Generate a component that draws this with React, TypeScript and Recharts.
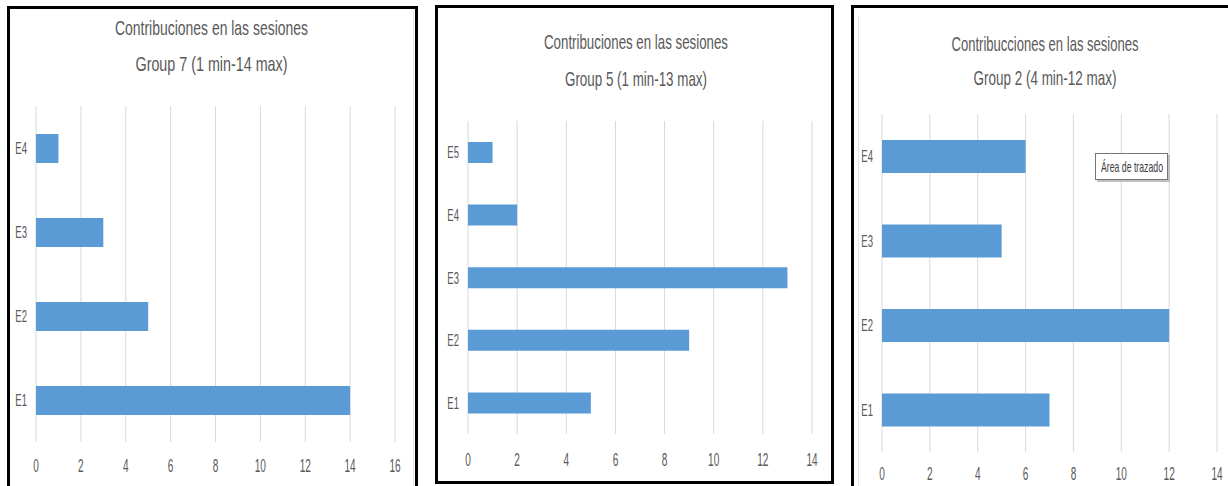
import React from "react";
import { BarChart, Bar, XAxis, YAxis, CartesianGrid } from "recharts";

// ---- data ----
const g7Categories = ["E1", "E2", "E3", "E4"];
const g7Values = [14, 5, 3, 1];
const g7Ticks = [0, 2, 4, 6, 8, 10, 12, 14, 16];
const g7Title = ["Contribuciones en las sesiones", "Group 7 (1 min-14 max)"];

const g5Categories = ["E1", "E2", "E3", "E4", "E5"];
const g5Values = [5, 9, 13, 2, 1];
const g5Ticks = [0, 2, 4, 6, 8, 10, 12, 14];
const g5Title = ["Contribuciones en las sesiones", "Group 5 (1 min-13 max)"];

const g2Categories = ["E1", "E2", "E3", "E4"];
const g2Values = [7, 12, 5, 6];
const g2Ticks = [0, 2, 4, 6, 8, 10, 12, 14];
const g2Title = ["Contribucciones en las sesiones", "Group 2  (4 min-12 max)"];

const hoverLabel = "Área de trazado";

// ---- styles ----
const FONT = "'Liberation Sans', Arial, sans-serif";
const TEXT = "#595959";
const BAR = "#5B9BD5";
const GRID = "#D9D9D9";
const SX = 0.56;

const XTick = (props: any) => {
  const { x, y, payload, off } = props;
  return (
    <g transform={`translate(${x},${y + off})`}>
      <text transform={`scale(${SX},1)`} textAnchor="middle" fontSize={18} fill={TEXT} fontFamily={FONT}>
        {payload.value}
      </text>
    </g>
  );
};

const YTick = (props: any) => {
  const { x, y, payload } = props;
  return (
    <g transform={`translate(${x - 9},${y + 6})`}>
      <text transform={`scale(${SX},1)`} textAnchor="end" fontSize={17} fill={TEXT} fontFamily={FONT}>
        {payload.value}
      </text>
    </g>
  );
};

type PanelProps = {
  cats: string[];
  vals: number[];
  ticks: number[];
  chartLeft: number;
  width: number;
  plotLeft: number;
  plotRight: number;
  plotTop: number;
  plotBottom: number;
  barSize: number;
  labelOff: number;
};

const Panel = (p: PanelProps) => {
  const data = p.cats.map((c, i) => ({ name: c, value: p.vals[i] }));
  const H = 486;
  const max = p.ticks[p.ticks.length - 1];
  return (
    <div style={{ position: "absolute", left: p.chartLeft, top: 0 }}>
      <BarChart
        width={p.width}
        height={H}
        data={data}
        layout="vertical"
        margin={{ top: p.plotTop, right: p.chartLeft + p.width - p.plotRight, bottom: 0, left: 0 }}
      >
        <CartesianGrid horizontal={false} vertical={true} stroke={GRID} />
        <XAxis
          type="number"
          domain={[0, max]}
          ticks={p.ticks}
          interval={0}
          axisLine={false}
          tickLine={false}
          tickSize={0}
          tickMargin={0}
          height={H - p.plotBottom}
          tick={(tp: any) => <XTick {...tp} off={p.labelOff} />}
        />
        <YAxis
          type="category"
          dataKey="name"
          reversed
          width={p.plotLeft - p.chartLeft}
          axisLine={false}
          tickLine={false}
          tickSize={0}
          tickMargin={0}
          interval={0}
          tick={(tp: any) => <YTick {...tp} />}
        />
        <Bar dataKey="value" fill={BAR} barSize={p.barSize} isAnimationActive={false} />
      </BarChart>
    </div>
  );
};

const Title = ({ lines, cx, y1, y2, w1, w2 }: any) => (
  <g fontFamily={FONT} fill={TEXT} fontSize={21}>
    <text x={cx - w1 / 2} y={y1} textLength={w1} lengthAdjust="spacingAndGlyphs">{lines[0]}</text>
    <text x={cx - w2 / 2} y={y2} textLength={w2} lengthAdjust="spacingAndGlyphs">{lines[1]}</text>
  </g>
);

const border = (left: number, top: number, width: number, height: number): React.CSSProperties => ({
  position: "absolute",
  left,
  top,
  width,
  height,
  border: "3px solid #000",
  boxSizing: "border-box",
});

export default function App() {
  return (
    <div style={{ position: "absolute", left: 0, top: 0, width: 1228, height: 486, overflow: "hidden", background: "#fff" }}>
      <div style={{ position: "absolute", left: 413, top: 8, width: 1, height: 480, background: "#E6E6E6" }} />
      <div style={{ position: "absolute", left: 858, top: 16, width: 1, height: 480, background: "#E6E6E6" }} />

      <Panel cats={g7Categories} vals={g7Values} ticks={g7Ticks} chartLeft={10} width={405}
        plotLeft={36} plotRight={395} plotTop={106} plotBottom={442} barSize={29} labelOff={30} />
      <Panel cats={g5Categories} vals={g5Values} ticks={g5Ticks} chartLeft={438} width={393}
        plotLeft={468} plotRight={812} plotTop={121} plotBottom={434} barSize={21} labelOff={32} />
      <Panel cats={g2Categories} vals={g2Values} ticks={g2Ticks} chartLeft={854} width={374}
        plotLeft={882} plotRight={1217} plotTop={114} plotBottom={452} barSize={33} labelOff={28} />

      <svg width={1228} height={486} style={{ position: "absolute", left: 0, top: 0, pointerEvents: "none" }}>
        <Title lines={g7Title} cx={211.5} y1={35} y2={71} w1={193} w2={152} />
        <Title lines={g5Title} cx={636} y1={49} y2={86} w1={184} w2={142} />
        <Title lines={g2Title} cx={1045} y1={51} y2={85} w1={187} w2={143} />
        <rect x={1097} y={155} width={73} height={27} fill="#BFBFBF" />
        <rect x={1095.5} y={153.5} width={72} height={26} fill="#fff" stroke="#767676" />
        <text x={1101} y={172} fontSize={15} fontFamily={FONT} fill="#404040" textLength={62} lengthAdjust="spacingAndGlyphs">
          {hoverLabel}
        </text>
      </svg>

      <div style={border(7, 6, 411, 500)} />
      <div style={border(435, 5, 399, 479)} />
      <div style={border(851, 5, 400, 500)} />
    </div>
  );
}
